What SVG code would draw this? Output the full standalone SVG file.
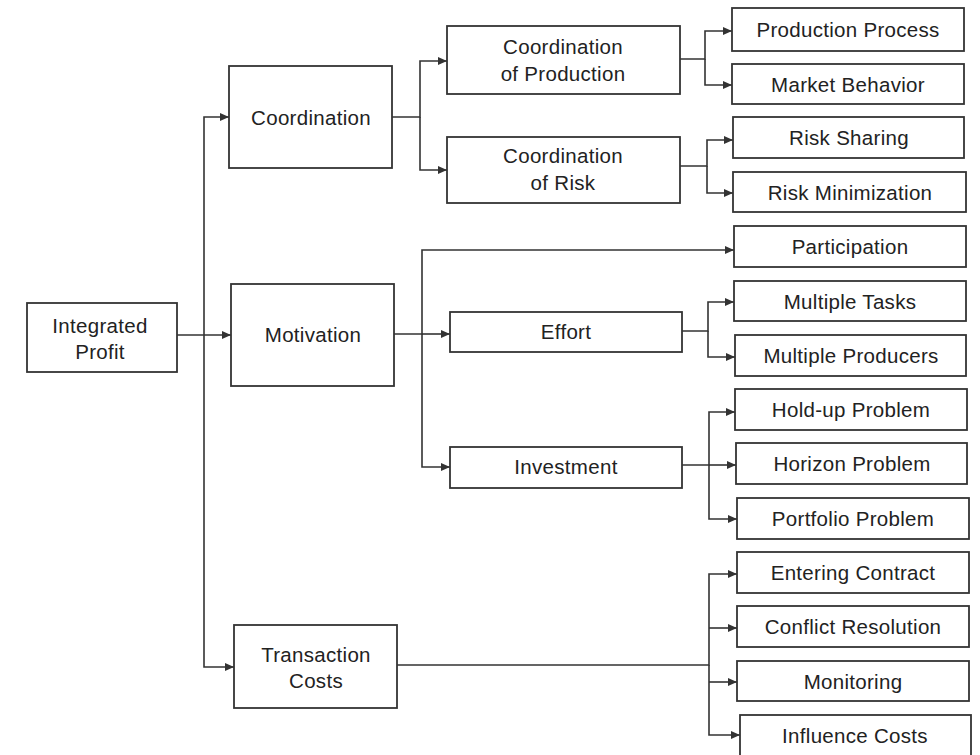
<svg xmlns="http://www.w3.org/2000/svg" width="980" height="755" viewBox="0 0 980 755">
<style>
.box{fill:#fff;stroke:#333;stroke-width:1.8}
.lbl{font-family:"Liberation Sans",Arial,sans-serif;font-size:20.5px;fill:#222;text-anchor:middle;letter-spacing:0.3px}
.con{fill:none;stroke:#333;stroke-width:1.6}
.arr{marker-end:url(#ah)}
</style>
<defs>
<marker id="ah" markerUnits="userSpaceOnUse" markerWidth="10" markerHeight="8" refX="9" refY="4" orient="auto">
<path d="M0,0 L9,4 L0,8 Z" fill="#333"/>
</marker>
</defs>
<rect width="980" height="755" fill="#fff"/>
<g id="connectors">
<path class="con arr" d="M177,335 H231"/>
<path class="con arr" d="M204,335 V117 H229"/>
<path class="con arr" d="M204,335 V667 H234"/>
<path class="con arr" d="M392,117 H420 V61 H447"/>
<path class="con arr" d="M420,117 V170 H447"/>
<path class="con arr" d="M394,334 H422 V250 H734"/>
<path class="con arr" d="M422,334 H450"/>
<path class="con arr" d="M422,334 V467 H450"/>
<path class="con arr" d="M680,59 H705 V31 H732"/>
<path class="con arr" d="M705,59 V85 H732"/>
<path class="con arr" d="M680,166 H707 V140 H733"/>
<path class="con arr" d="M707,166 V193 H733"/>
<path class="con arr" d="M682,331 H708 V302 H734"/>
<path class="con arr" d="M708,331 V357 H735"/>
<path class="con arr" d="M682,465 H709 V412 H735"/>
<path class="con arr" d="M709,465 H736"/>
<path class="con arr" d="M709,465 V519 H737"/>
<path class="con arr" d="M397,665 H709 V574 H737"/>
<path class="con arr" d="M709,628 H737"/>
<path class="con arr" d="M709,682 H737"/>
<path class="con arr" d="M709,665 V735 H740"/>
</g>
<g id="integrated-profit"><rect class="box" x="27" y="303" width="150" height="69"/><text class="lbl" x="100" y="333">Integrated</text><text class="lbl" x="100" y="359">Profit</text></g>
<g id="coordination"><rect class="box" x="229" y="66" width="163" height="102"/><text class="lbl" x="311" y="125">Coordination</text></g>
<g id="motivation"><rect class="box" x="231" y="284" width="163" height="102"/><text class="lbl" x="313" y="342">Motivation</text></g>
<g id="transaction-costs"><rect class="box" x="234" y="625" width="163" height="83"/><text class="lbl" x="316" y="662">Transaction</text><text class="lbl" x="316" y="688">Costs</text></g>
<g id="coord-production"><rect class="box" x="447" y="26" width="233" height="68"/><text class="lbl" x="563" y="54">Coordination</text><text class="lbl" x="563" y="81">of Production</text></g>
<g id="coord-risk"><rect class="box" x="447" y="137" width="233" height="66"/><text class="lbl" x="563" y="163">Coordination</text><text class="lbl" x="563" y="190">of Risk</text></g>
<g id="effort"><rect class="box" x="450" y="312" width="232" height="40"/><text class="lbl" x="566" y="339">Effort</text></g>
<g id="investment"><rect class="box" x="450" y="447" width="232" height="41"/><text class="lbl" x="566" y="474">Investment</text></g>
<g id="production-process"><rect class="box" x="732" y="8" width="232" height="43"/><text class="lbl" x="848" y="37">Production Process</text></g>
<g id="market-behavior"><rect class="box" x="732" y="64" width="232" height="40"/><text class="lbl" x="848" y="92">Market Behavior</text></g>
<g id="risk-sharing"><rect class="box" x="733" y="117" width="231" height="41"/><text class="lbl" x="849" y="145">Risk Sharing</text></g>
<g id="risk-minimization"><rect class="box" x="733" y="172" width="233" height="40"/><text class="lbl" x="850" y="200">Risk Minimization</text></g>
<g id="participation"><rect class="box" x="734" y="226" width="232" height="41"/><text class="lbl" x="850" y="254">Participation</text></g>
<g id="multiple-tasks"><rect class="box" x="734" y="281" width="232" height="40"/><text class="lbl" x="850" y="309">Multiple Tasks</text></g>
<g id="multiple-producers"><rect class="box" x="735" y="335" width="231" height="41"/><text class="lbl" x="851" y="363">Multiple Producers</text></g>
<g id="hold-up-problem"><rect class="box" x="735" y="389" width="232" height="41"/><text class="lbl" x="851" y="417">Hold-up Problem</text></g>
<g id="horizon-problem"><rect class="box" x="736" y="443" width="231" height="41"/><text class="lbl" x="852" y="471">Horizon Problem</text></g>
<g id="portfolio-problem"><rect class="box" x="737" y="498" width="232" height="41"/><text class="lbl" x="853" y="526">Portfolio Problem</text></g>
<g id="entering-contract"><rect class="box" x="737" y="552" width="232" height="41"/><text class="lbl" x="853" y="580">Entering Contract</text></g>
<g id="conflict-resolution"><rect class="box" x="737" y="606" width="232" height="41"/><text class="lbl" x="853" y="634">Conflict Resolution</text></g>
<g id="monitoring"><rect class="box" x="737" y="661" width="232" height="40"/><text class="lbl" x="853" y="689">Monitoring</text></g>
<g id="influence-costs"><rect class="box" x="740" y="715" width="231" height="41"/><text class="lbl" x="855" y="743">Influence Costs</text></g>
</svg>
